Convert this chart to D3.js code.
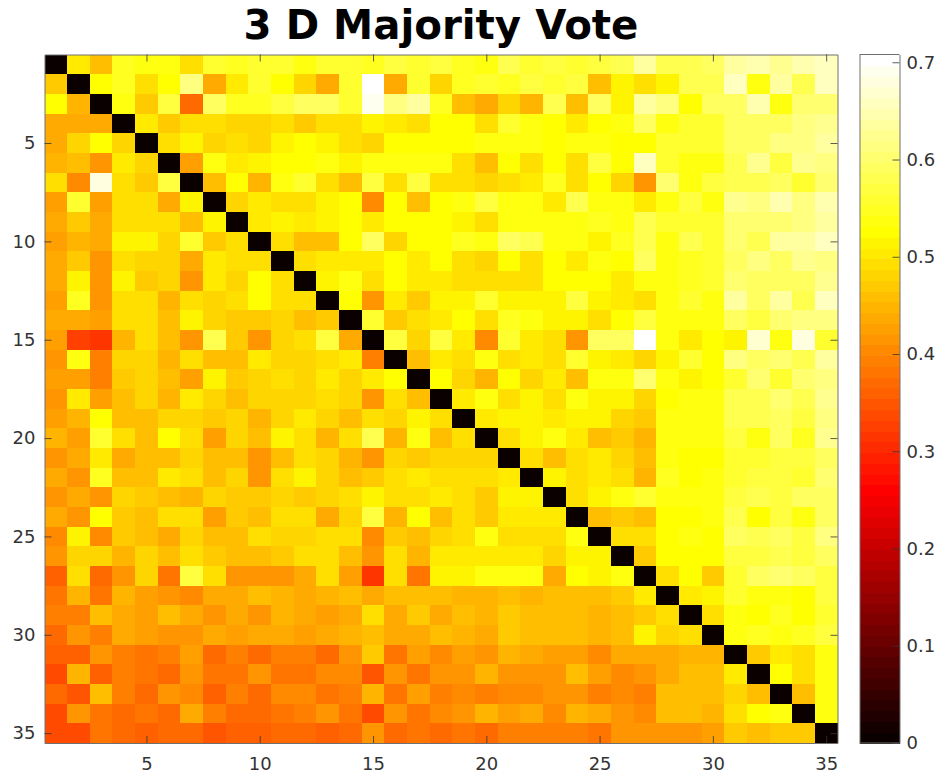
<!DOCTYPE html>
<html><head><meta charset="utf-8">
<script src="https://cdn.jsdelivr.net/npm/d3@7"></script>
<style>html,body{margin:0;padding:0;background:#fff}svg{display:block}text{font-family:"DejaVu Sans",sans-serif}</style>
</head><body><svg id="c" width="938" height="776"></svg>
<script>
const chartTitle = "3 D Majority Vote";
const axisTicks = [5,10,15,20,25,30,35];
const colorTicks = [0,0.1,0.2,0.3,0.4,0.5,0.6,0.7];
const colorMax = 0.708;
const matrix = [
[0,.51,.47,.545,.54,.535,.50,.55,.545,.55,.55,.54,.55,.55,.545,.56,.55,.56,.545,.535,.57,.55,.56,.55,.56,.57,.62,.57,.57,.58,.62,.64,.61,.64,.65],
[.48,0,.53,.545,.50,.53,.60,.44,.51,.55,.53,.49,.44,.55,.71,.44,.55,.49,.545,.55,.545,.56,.55,.56,.47,.525,.50,.525,.57,.565,.65,.54,.63,.57,.655],
[.53,.45,0,.54,.48,.56,.37,.58,.545,.545,.56,.58,.58,.55,.69,.60,.63,.545,.47,.44,.49,.45,.57,.47,.58,.525,.625,.605,.53,.58,.575,.64,.54,.59,.59],
[.44,.44,.44,0,.51,.48,.505,.505,.49,.49,.50,.475,.50,.50,.525,.51,.505,.53,.53,.495,.55,.54,.53,.515,.53,.54,.575,.535,.55,.55,.575,.575,.58,.60,.61],
[.44,.49,.53,.49,0,.505,.52,.49,.50,.49,.52,.53,.52,.495,.485,.53,.53,.53,.53,.535,.535,.535,.53,.54,.535,.53,.53,.55,.555,.55,.575,.58,.60,.595,.62],
[.45,.47,.42,.515,.49,0,.43,.54,.515,.52,.53,.53,.54,.525,.535,.54,.535,.54,.505,.47,.53,.50,.53,.505,.56,.53,.645,.55,.535,.54,.57,.61,.56,.615,.60],
[.495,.41,.67,.505,.48,.56,0,.46,.53,.45,.54,.555,.50,.47,.56,.495,.56,.505,.505,.49,.505,.515,.545,.505,.53,.49,.42,.59,.54,.56,.565,.57,.58,.55,.59],
[.43,.55,.43,.495,.50,.445,.525,0,.49,.515,.495,.505,.52,.53,.41,.53,.47,.53,.54,.56,.535,.535,.515,.57,.54,.535,.515,.535,.56,.535,.61,.60,.635,.595,.635],
[.445,.48,.445,.505,.50,.50,.47,.52,0,.51,.52,.515,.525,.53,.515,.53,.53,.53,.52,.505,.54,.535,.54,.535,.545,.54,.565,.55,.55,.55,.59,.59,.585,.60,.62],
[.435,.45,.445,.525,.525,.485,.55,.48,.495,0,.50,.47,.47,.53,.58,.49,.53,.53,.545,.535,.575,.57,.535,.535,.52,.545,.565,.54,.565,.55,.59,.57,.62,.62,.645],
[.44,.475,.42,.505,.485,.485,.445,.51,.495,.505,0,.50,.515,.515,.515,.53,.515,.53,.505,.49,.53,.50,.53,.515,.54,.53,.58,.54,.545,.55,.58,.60,.575,.61,.60],
[.445,.52,.415,.52,.48,.485,.425,.51,.49,.53,.505,0,.52,.535,.495,.53,.515,.515,.495,.50,.50,.495,.53,.53,.53,.51,.54,.54,.545,.55,.59,.575,.575,.575,.61],
[.43,.545,.415,.505,.495,.45,.505,.49,.495,.53,.50,.50,0,.53,.42,.515,.475,.52,.52,.55,.52,.52,.52,.56,.525,.51,.505,.54,.55,.54,.63,.58,.62,.57,.645],
[.44,.44,.435,.495,.495,.47,.52,.485,.48,.48,.485,.465,.475,0,.55,.48,.50,.515,.53,.495,.545,.54,.52,.52,.50,.53,.56,.535,.54,.535,.575,.56,.585,.60,.60],
[.43,.33,.32,.45,.505,.465,.42,.57,.48,.42,.49,.505,.56,.44,0,.56,.49,.56,.51,.405,.55,.515,.495,.425,.575,.575,.71,.535,.51,.53,.52,.665,.535,.675,.55],
[.42,.54,.40,.49,.485,.45,.495,.47,.47,.515,.485,.485,.495,.515,.40,0,.46,.51,.505,.535,.50,.51,.505,.55,.52,.51,.485,.525,.55,.53,.60,.575,.585,.565,.62],
[.43,.43,.395,.48,.485,.46,.435,.52,.48,.485,.495,.485,.515,.49,.515,.53,0,.53,.49,.45,.53,.49,.515,.47,.54,.54,.59,.535,.525,.53,.55,.59,.55,.585,.60],
[.42,.515,.43,.47,.485,.45,.51,.49,.47,.485,.485,.485,.495,.49,.415,.50,.465,0,.51,.535,.505,.525,.50,.535,.525,.525,.485,.53,.54,.535,.57,.57,.585,.565,.615],
[.435,.45,.53,.47,.47,.49,.49,.475,.485,.45,.49,.515,.485,.47,.495,.49,.52,.50,0,.515,.52,.52,.51,.52,.52,.49,.475,.54,.54,.535,.565,.565,.58,.56,.60],
[.455,.43,.55,.50,.47,.53,.495,.435,.49,.47,.52,.505,.455,.50,.57,.455,.54,.47,.50,0,.50,.52,.535,.515,.47,.48,.455,.54,.535,.535,.56,.535,.58,.545,.61],
[.42,.44,.51,.445,.47,.47,.49,.47,.47,.425,.47,.505,.49,.45,.425,.49,.475,.49,.49,.49,0,.505,.47,.50,.515,.485,.46,.535,.53,.53,.555,.55,.56,.56,.58],
[.44,.425,.545,.47,.47,.515,.50,.46,.49,.425,.50,.525,.49,.46,.48,.50,.515,.50,.495,.495,.51,0,.52,.495,.51,.495,.45,.545,.53,.535,.55,.56,.56,.555,.59],
[.42,.44,.425,.49,.475,.47,.455,.49,.48,.475,.49,.475,.49,.50,.52,.505,.495,.515,.50,.475,.525,.525,0,.495,.525,.535,.55,.535,.535,.54,.56,.565,.56,.575,.58],
[.44,.42,.53,.48,.46,.50,.50,.43,.48,.465,.50,.495,.445,.485,.56,.45,.53,.46,.50,.48,.515,.515,.515,0,.47,.475,.465,.53,.53,.535,.565,.53,.56,.535,.58],
[.405,.525,.41,.48,.46,.44,.49,.465,.465,.50,.485,.485,.495,.50,.41,.48,.465,.485,.50,.535,.505,.505,.505,.54,0,.50,.50,.53,.54,.53,.58,.565,.575,.56,.60],
[.42,.49,.49,.455,.485,.46,.505,.48,.465,.46,.48,.495,.495,.46,.415,.505,.455,.515,.51,.515,.515,.515,.49,.525,.52,0,.48,.53,.53,.53,.56,.56,.57,.56,.58],
[.365,.50,.38,.415,.485,.385,.56,.495,.42,.42,.42,.44,.505,.43,.32,.505,.39,.52,.525,.54,.535,.535,.44,.53,.52,.535,0,.50,.53,.48,.55,.575,.59,.58,.56],
[.39,.45,.39,.45,.43,.42,.41,.44,.44,.465,.455,.445,.45,.47,.44,.465,.465,.465,.455,.455,.46,.455,.47,.47,.47,.475,.51,0,.515,.525,.55,.54,.535,.53,.56],
[.40,.40,.465,.445,.43,.46,.445,.425,.445,.425,.455,.445,.43,.445,.495,.44,.475,.445,.46,.455,.475,.465,.465,.465,.45,.46,.48,.495,0,.505,.54,.53,.545,.53,.555],
[.375,.42,.40,.44,.43,.42,.42,.445,.435,.445,.445,.435,.445,.45,.46,.445,.445,.46,.45,.44,.475,.465,.465,.465,.45,.465,.525,.49,.495,0,.54,.545,.54,.545,.56],
[.36,.36,.42,.40,.39,.40,.43,.37,.40,.38,.40,.40,.37,.42,.48,.39,.43,.41,.43,.42,.45,.44,.43,.43,.405,.44,.44,.44,.45,.45,0,.48,.515,.505,.54],
[.34,.45,.365,.395,.39,.37,.415,.385,.385,.415,.39,.39,.41,.405,.35,.415,.39,.415,.415,.455,.415,.425,.415,.46,.43,.41,.415,.445,.465,.46,.515,0,.53,.495,.54],
[.37,.355,.465,.40,.375,.415,.405,.36,.395,.37,.405,.41,.385,.395,.455,.385,.435,.395,.405,.40,.41,.41,.42,.415,.40,.405,.395,.46,.46,.465,.49,.47,0,.47,.535],
[.345,.425,.39,.375,.39,.375,.445,.395,.38,.38,.39,.40,.415,.385,.345,.425,.385,.41,.425,.45,.43,.445,.41,.45,.44,.42,.405,.46,.47,.45,.505,.53,.535,0,.54],
[.345,.345,.385,.375,.365,.37,.37,.355,.365,.365,.37,.375,.365,.38,.425,.375,.385,.375,.39,.38,.40,.40,.395,.395,.39,.415,.425,.425,.425,.435,.475,.465,.48,.475,0]
];

// Matlab hot(64) palette: 24 red steps, 24 green steps, 16 blue steps
const hot = d3.range(64).map(i => {
  const r = Math.min(1,(i+1)/24), g = Math.min(1,Math.max(0,(i+1-24)/24)), b = Math.max(0,(i+1-48)/16);
  return d3.rgb(r*255,g*255,b*255).formatHex();
});
const color = d3.scaleQuantize().domain([0,colorMax]).range(hot);
// correction of the by-eye colour reading against the colour bar
const reading = d3.scaleLinear().domain([0,.45,.52,.56,.60,.71]).range([0,.445,.51,.57,.615,.71]);

const svg = d3.select("#c");
const L=44.5,R=837.5,T=54.5,B=743,cL=859.5,cR=899.5;
const x = d3.scaleLinear().domain([0.5,35.5]).range([L,R]);
const y = d3.scaleLinear().domain([0.5,35.5]).range([T,B]);
const cy = d3.scaleLinear().domain([0,colorMax]).range([B,T]);

const cells = matrix.flatMap((row,r)=>row.map((v,c)=>({r:r+1,c:c+1,v})));
svg.append("g").attr("shape-rendering","crispEdges").selectAll("rect").data(cells).join("rect")
  .attr("x",d=>x(d.c-0.5)).attr("y",d=>y(d.r-0.5))
  .attr("width",x(1.5)-x(0.5)+0.3).attr("height",y(1.5)-y(0.5)+0.3)
  .attr("fill",d=>color(reading(d.v)));

const tickColor="#333333", boxColor="#707070";
function style(g){
  g.select(".domain").attr("stroke",boxColor).attr("stroke-width",1);
  g.selectAll(".tick line").attr("stroke",tickColor).attr("stroke-width",0.8);
  g.selectAll("text").attr("fill",tickColor).style("font-size","18px").style("font-family",'"DejaVu Sans",sans-serif');
}
const tl=7;
svg.append("g").attr("transform",`translate(0,${B})`).call(d3.axisBottom(x).tickValues(axisTicks).tickSizeInner(-tl).tickSizeOuter(0).tickPadding(14).tickFormat(d3.format("d"))).call(style);
svg.append("g").attr("transform",`translate(0,${T})`).call(d3.axisTop(x).tickValues(axisTicks).tickSizeInner(-tl).tickSizeOuter(0).tickFormat("")).call(style);
svg.append("g").attr("transform",`translate(${L},0)`).call(d3.axisLeft(y).tickValues(axisTicks).tickSizeInner(-tl).tickSizeOuter(0).tickPadding(9).tickFormat(d3.format("d"))).call(style);
svg.append("g").attr("transform",`translate(${R},0)`).call(d3.axisRight(y).tickValues(axisTicks).tickSizeInner(-tl).tickSizeOuter(0).tickFormat("")).call(style);

// colorbar
const cbar = d3.scaleBand().domain(d3.range(64)).range([B,T]);
svg.append("g").attr("shape-rendering","crispEdges").selectAll("rect").data(hot).join("rect")
  .attr("x",cL).attr("width",cR-cL)
  .attr("y",(d,i)=>cbar(i)).attr("height",cbar.bandwidth()+0.5).attr("fill",d=>d);
svg.append("g").attr("transform",`translate(${cR},0)`).call(d3.axisRight(cy).tickValues(colorTicks).tickSizeInner(-7).tickSizeOuter(0).tickPadding(7).tickFormat(d=>d===0?"0":d3.format(".1f")(d))).call(style);
svg.append("g").attr("transform",`translate(${cL},0)`).call(d3.axisLeft(cy).tickValues([]).tickSizeOuter(0)).call(style);
svg.append("line").attr("x1",cL).attr("x2",cR).attr("y1",T).attr("y2",T).attr("stroke",boxColor);
svg.append("line").attr("x1",cL).attr("x2",cR).attr("y1",B).attr("y2",B).attr("stroke",boxColor);

svg.append("text").attr("x",441).attr("y",39).attr("text-anchor","middle")
  .style("font-size","40.3px").style("font-weight","bold").attr("fill","#000").text(chartTitle);
</script></body></html>
